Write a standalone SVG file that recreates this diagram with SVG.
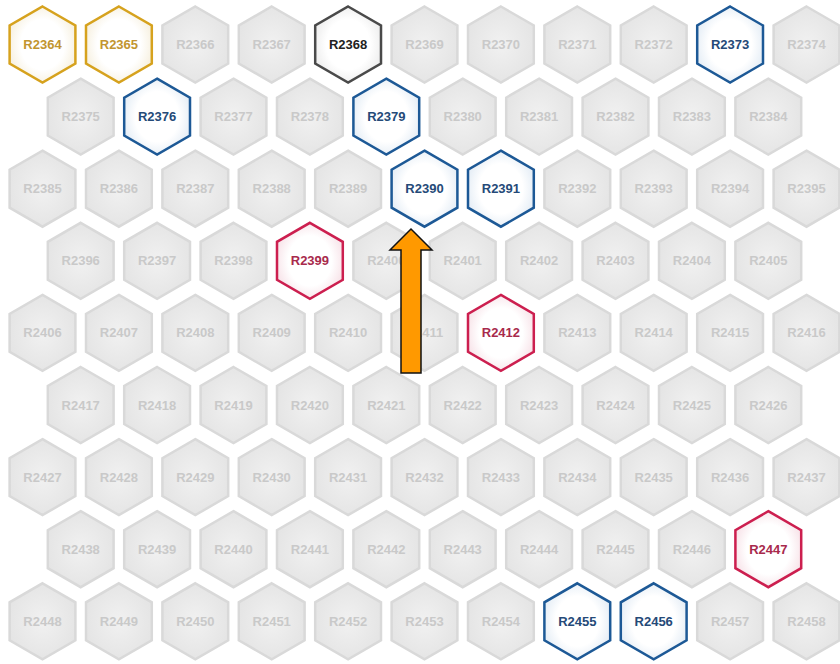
<svg xmlns="http://www.w3.org/2000/svg" xmlns:xlink="http://www.w3.org/1999/xlink" width="840" height="664" viewBox="0 0 840 664">
<defs>
<polygon id="hex" points="0,-38 32.9,-19 32.9,19 0,38 -32.9,19 -32.9,-19"/>
<radialGradient id="gGray" cx="50%" cy="50%" r="55%"><stop offset="0" stop-color="#f1f1f1"/><stop offset="1" stop-color="#e4e4e4"/></radialGradient>
<radialGradient id="gBlue" cx="50%" cy="50%" r="55%"><stop offset="0.6" stop-color="#ffffff"/><stop offset="1" stop-color="#e3ecf5"/></radialGradient>
<radialGradient id="gGold" cx="50%" cy="50%" r="55%"><stop offset="0.6" stop-color="#ffffff"/><stop offset="1" stop-color="#f6efdd"/></radialGradient>
<radialGradient id="gRed" cx="50%" cy="50%" r="55%"><stop offset="0.6" stop-color="#ffffff"/><stop offset="1" stop-color="#f7e1e7"/></radialGradient>
<radialGradient id="gDark" cx="50%" cy="50%" r="55%"><stop offset="0.6" stop-color="#ffffff"/><stop offset="1" stop-color="#ececec"/></radialGradient>
</defs>
<style>
.n use{fill:url(#gGray);stroke:#d9d9d9;stroke-width:2.5}
.n text{font-family:"Liberation Sans",Arial,sans-serif;font-size:13px;font-weight:bold;text-anchor:middle;fill:#c9c9c9}
.n.blue use{fill:url(#gBlue);stroke:#1d5996}
.n.blue text{fill:#254a78}
.n.gold use{fill:url(#gGold);stroke:#d6a21e}
.n.gold text{fill:#c29530}
.n.red use{fill:url(#gRed);stroke:#cc1f4f}
.n.red text{fill:#a82a4c}
.n.dark use{fill:url(#gDark);stroke:#4a4a4a}
.n.dark text{fill:#222222}
.arrow{fill:#ff9900;stroke:#111111;stroke-width:1.5;stroke-linejoin:miter}
</style>
<rect width="840" height="664" fill="#ffffff"/>
<g id="nodes">
<g id="R2364" class="n gold" transform="translate(42.5,44.5)"><use xlink:href="#hex"/><text y="4.5">R2364</text></g>
<g id="R2365" class="n gold" transform="translate(118.9,44.5)"><use xlink:href="#hex"/><text y="4.5">R2365</text></g>
<g id="R2366" class="n" transform="translate(195.3,44.5)"><use xlink:href="#hex"/><text y="4.5">R2366</text></g>
<g id="R2367" class="n" transform="translate(271.7,44.5)"><use xlink:href="#hex"/><text y="4.5">R2367</text></g>
<g id="R2368" class="n dark" transform="translate(348.1,44.5)"><use xlink:href="#hex"/><text y="4.5">R2368</text></g>
<g id="R2369" class="n" transform="translate(424.5,44.5)"><use xlink:href="#hex"/><text y="4.5">R2369</text></g>
<g id="R2370" class="n" transform="translate(500.9,44.5)"><use xlink:href="#hex"/><text y="4.5">R2370</text></g>
<g id="R2371" class="n" transform="translate(577.3,44.5)"><use xlink:href="#hex"/><text y="4.5">R2371</text></g>
<g id="R2372" class="n" transform="translate(653.7,44.5)"><use xlink:href="#hex"/><text y="4.5">R2372</text></g>
<g id="R2373" class="n blue" transform="translate(730.1,44.5)"><use xlink:href="#hex"/><text y="4.5">R2373</text></g>
<g id="R2374" class="n" transform="translate(806.5,44.5)"><use xlink:href="#hex"/><text y="4.5">R2374</text></g>

<g id="R2375" class="n" transform="translate(80.7,116.6)"><use xlink:href="#hex"/><text y="4.5">R2375</text></g>
<g id="R2376" class="n blue" transform="translate(157.1,116.6)"><use xlink:href="#hex"/><text y="4.5">R2376</text></g>
<g id="R2377" class="n" transform="translate(233.5,116.6)"><use xlink:href="#hex"/><text y="4.5">R2377</text></g>
<g id="R2378" class="n" transform="translate(309.9,116.6)"><use xlink:href="#hex"/><text y="4.5">R2378</text></g>
<g id="R2379" class="n blue" transform="translate(386.3,116.6)"><use xlink:href="#hex"/><text y="4.5">R2379</text></g>
<g id="R2380" class="n" transform="translate(462.7,116.6)"><use xlink:href="#hex"/><text y="4.5">R2380</text></g>
<g id="R2381" class="n" transform="translate(539.1,116.6)"><use xlink:href="#hex"/><text y="4.5">R2381</text></g>
<g id="R2382" class="n" transform="translate(615.5,116.6)"><use xlink:href="#hex"/><text y="4.5">R2382</text></g>
<g id="R2383" class="n" transform="translate(691.9,116.6)"><use xlink:href="#hex"/><text y="4.5">R2383</text></g>
<g id="R2384" class="n" transform="translate(768.3,116.6)"><use xlink:href="#hex"/><text y="4.5">R2384</text></g>

<g id="R2385" class="n" transform="translate(42.5,188.7)"><use xlink:href="#hex"/><text y="4.5">R2385</text></g>
<g id="R2386" class="n" transform="translate(118.9,188.7)"><use xlink:href="#hex"/><text y="4.5">R2386</text></g>
<g id="R2387" class="n" transform="translate(195.3,188.7)"><use xlink:href="#hex"/><text y="4.5">R2387</text></g>
<g id="R2388" class="n" transform="translate(271.7,188.7)"><use xlink:href="#hex"/><text y="4.5">R2388</text></g>
<g id="R2389" class="n" transform="translate(348.1,188.7)"><use xlink:href="#hex"/><text y="4.5">R2389</text></g>
<g id="R2390" class="n blue" transform="translate(424.5,188.7)"><use xlink:href="#hex"/><text y="4.5">R2390</text></g>
<g id="R2391" class="n blue" transform="translate(500.9,188.7)"><use xlink:href="#hex"/><text y="4.5">R2391</text></g>
<g id="R2392" class="n" transform="translate(577.3,188.7)"><use xlink:href="#hex"/><text y="4.5">R2392</text></g>
<g id="R2393" class="n" transform="translate(653.7,188.7)"><use xlink:href="#hex"/><text y="4.5">R2393</text></g>
<g id="R2394" class="n" transform="translate(730.1,188.7)"><use xlink:href="#hex"/><text y="4.5">R2394</text></g>
<g id="R2395" class="n" transform="translate(806.5,188.7)"><use xlink:href="#hex"/><text y="4.5">R2395</text></g>

<g id="R2396" class="n" transform="translate(80.7,260.8)"><use xlink:href="#hex"/><text y="4.5">R2396</text></g>
<g id="R2397" class="n" transform="translate(157.1,260.8)"><use xlink:href="#hex"/><text y="4.5">R2397</text></g>
<g id="R2398" class="n" transform="translate(233.5,260.8)"><use xlink:href="#hex"/><text y="4.5">R2398</text></g>
<g id="R2399" class="n red" transform="translate(309.9,260.8)"><use xlink:href="#hex"/><text y="4.5">R2399</text></g>
<g id="R2400" class="n" transform="translate(386.3,260.8)"><use xlink:href="#hex"/><text y="4.5">R2400</text></g>
<g id="R2401" class="n" transform="translate(462.7,260.8)"><use xlink:href="#hex"/><text y="4.5">R2401</text></g>
<g id="R2402" class="n" transform="translate(539.1,260.8)"><use xlink:href="#hex"/><text y="4.5">R2402</text></g>
<g id="R2403" class="n" transform="translate(615.5,260.8)"><use xlink:href="#hex"/><text y="4.5">R2403</text></g>
<g id="R2404" class="n" transform="translate(691.9,260.8)"><use xlink:href="#hex"/><text y="4.5">R2404</text></g>
<g id="R2405" class="n" transform="translate(768.3,260.8)"><use xlink:href="#hex"/><text y="4.5">R2405</text></g>

<g id="R2406" class="n" transform="translate(42.5,332.9)"><use xlink:href="#hex"/><text y="4.5">R2406</text></g>
<g id="R2407" class="n" transform="translate(118.9,332.9)"><use xlink:href="#hex"/><text y="4.5">R2407</text></g>
<g id="R2408" class="n" transform="translate(195.3,332.9)"><use xlink:href="#hex"/><text y="4.5">R2408</text></g>
<g id="R2409" class="n" transform="translate(271.7,332.9)"><use xlink:href="#hex"/><text y="4.5">R2409</text></g>
<g id="R2410" class="n" transform="translate(348.1,332.9)"><use xlink:href="#hex"/><text y="4.5">R2410</text></g>
<g id="R2411" class="n" transform="translate(424.5,332.9)"><use xlink:href="#hex"/><text y="4.5">R2411</text></g>
<g id="R2412" class="n red" transform="translate(500.9,332.9)"><use xlink:href="#hex"/><text y="4.5">R2412</text></g>
<g id="R2413" class="n" transform="translate(577.3,332.9)"><use xlink:href="#hex"/><text y="4.5">R2413</text></g>
<g id="R2414" class="n" transform="translate(653.7,332.9)"><use xlink:href="#hex"/><text y="4.5">R2414</text></g>
<g id="R2415" class="n" transform="translate(730.1,332.9)"><use xlink:href="#hex"/><text y="4.5">R2415</text></g>
<g id="R2416" class="n" transform="translate(806.5,332.9)"><use xlink:href="#hex"/><text y="4.5">R2416</text></g>

<g id="R2417" class="n" transform="translate(80.7,405)"><use xlink:href="#hex"/><text y="4.5">R2417</text></g>
<g id="R2418" class="n" transform="translate(157.1,405)"><use xlink:href="#hex"/><text y="4.5">R2418</text></g>
<g id="R2419" class="n" transform="translate(233.5,405)"><use xlink:href="#hex"/><text y="4.5">R2419</text></g>
<g id="R2420" class="n" transform="translate(309.9,405)"><use xlink:href="#hex"/><text y="4.5">R2420</text></g>
<g id="R2421" class="n" transform="translate(386.3,405)"><use xlink:href="#hex"/><text y="4.5">R2421</text></g>
<g id="R2422" class="n" transform="translate(462.7,405)"><use xlink:href="#hex"/><text y="4.5">R2422</text></g>
<g id="R2423" class="n" transform="translate(539.1,405)"><use xlink:href="#hex"/><text y="4.5">R2423</text></g>
<g id="R2424" class="n" transform="translate(615.5,405)"><use xlink:href="#hex"/><text y="4.5">R2424</text></g>
<g id="R2425" class="n" transform="translate(691.9,405)"><use xlink:href="#hex"/><text y="4.5">R2425</text></g>
<g id="R2426" class="n" transform="translate(768.3,405)"><use xlink:href="#hex"/><text y="4.5">R2426</text></g>

<g id="R2427" class="n" transform="translate(42.5,477.1)"><use xlink:href="#hex"/><text y="4.5">R2427</text></g>
<g id="R2428" class="n" transform="translate(118.9,477.1)"><use xlink:href="#hex"/><text y="4.5">R2428</text></g>
<g id="R2429" class="n" transform="translate(195.3,477.1)"><use xlink:href="#hex"/><text y="4.5">R2429</text></g>
<g id="R2430" class="n" transform="translate(271.7,477.1)"><use xlink:href="#hex"/><text y="4.5">R2430</text></g>
<g id="R2431" class="n" transform="translate(348.1,477.1)"><use xlink:href="#hex"/><text y="4.5">R2431</text></g>
<g id="R2432" class="n" transform="translate(424.5,477.1)"><use xlink:href="#hex"/><text y="4.5">R2432</text></g>
<g id="R2433" class="n" transform="translate(500.9,477.1)"><use xlink:href="#hex"/><text y="4.5">R2433</text></g>
<g id="R2434" class="n" transform="translate(577.3,477.1)"><use xlink:href="#hex"/><text y="4.5">R2434</text></g>
<g id="R2435" class="n" transform="translate(653.7,477.1)"><use xlink:href="#hex"/><text y="4.5">R2435</text></g>
<g id="R2436" class="n" transform="translate(730.1,477.1)"><use xlink:href="#hex"/><text y="4.5">R2436</text></g>
<g id="R2437" class="n" transform="translate(806.5,477.1)"><use xlink:href="#hex"/><text y="4.5">R2437</text></g>

<g id="R2438" class="n" transform="translate(80.7,549.2)"><use xlink:href="#hex"/><text y="4.5">R2438</text></g>
<g id="R2439" class="n" transform="translate(157.1,549.2)"><use xlink:href="#hex"/><text y="4.5">R2439</text></g>
<g id="R2440" class="n" transform="translate(233.5,549.2)"><use xlink:href="#hex"/><text y="4.5">R2440</text></g>
<g id="R2441" class="n" transform="translate(309.9,549.2)"><use xlink:href="#hex"/><text y="4.5">R2441</text></g>
<g id="R2442" class="n" transform="translate(386.3,549.2)"><use xlink:href="#hex"/><text y="4.5">R2442</text></g>
<g id="R2443" class="n" transform="translate(462.7,549.2)"><use xlink:href="#hex"/><text y="4.5">R2443</text></g>
<g id="R2444" class="n" transform="translate(539.1,549.2)"><use xlink:href="#hex"/><text y="4.5">R2444</text></g>
<g id="R2445" class="n" transform="translate(615.5,549.2)"><use xlink:href="#hex"/><text y="4.5">R2445</text></g>
<g id="R2446" class="n" transform="translate(691.9,549.2)"><use xlink:href="#hex"/><text y="4.5">R2446</text></g>
<g id="R2447" class="n red" transform="translate(768.3,549.2)"><use xlink:href="#hex"/><text y="4.5">R2447</text></g>

<g id="R2448" class="n" transform="translate(42.5,621.3)"><use xlink:href="#hex"/><text y="4.5">R2448</text></g>
<g id="R2449" class="n" transform="translate(118.9,621.3)"><use xlink:href="#hex"/><text y="4.5">R2449</text></g>
<g id="R2450" class="n" transform="translate(195.3,621.3)"><use xlink:href="#hex"/><text y="4.5">R2450</text></g>
<g id="R2451" class="n" transform="translate(271.7,621.3)"><use xlink:href="#hex"/><text y="4.5">R2451</text></g>
<g id="R2452" class="n" transform="translate(348.1,621.3)"><use xlink:href="#hex"/><text y="4.5">R2452</text></g>
<g id="R2453" class="n" transform="translate(424.5,621.3)"><use xlink:href="#hex"/><text y="4.5">R2453</text></g>
<g id="R2454" class="n" transform="translate(500.9,621.3)"><use xlink:href="#hex"/><text y="4.5">R2454</text></g>
<g id="R2455" class="n blue" transform="translate(577.3,621.3)"><use xlink:href="#hex"/><text y="4.5">R2455</text></g>
<g id="R2456" class="n blue" transform="translate(653.7,621.3)"><use xlink:href="#hex"/><text y="4.5">R2456</text></g>
<g id="R2457" class="n" transform="translate(730.1,621.3)"><use xlink:href="#hex"/><text y="4.5">R2457</text></g>
<g id="R2458" class="n" transform="translate(806.5,621.3)"><use xlink:href="#hex"/><text y="4.5">R2458</text></g>
</g>
<g id="connectors">
<polygon class="arrow" points="401,373 421,373 421,250 432,250 411,229 390,250 401,250"/>
</g>
</svg>
